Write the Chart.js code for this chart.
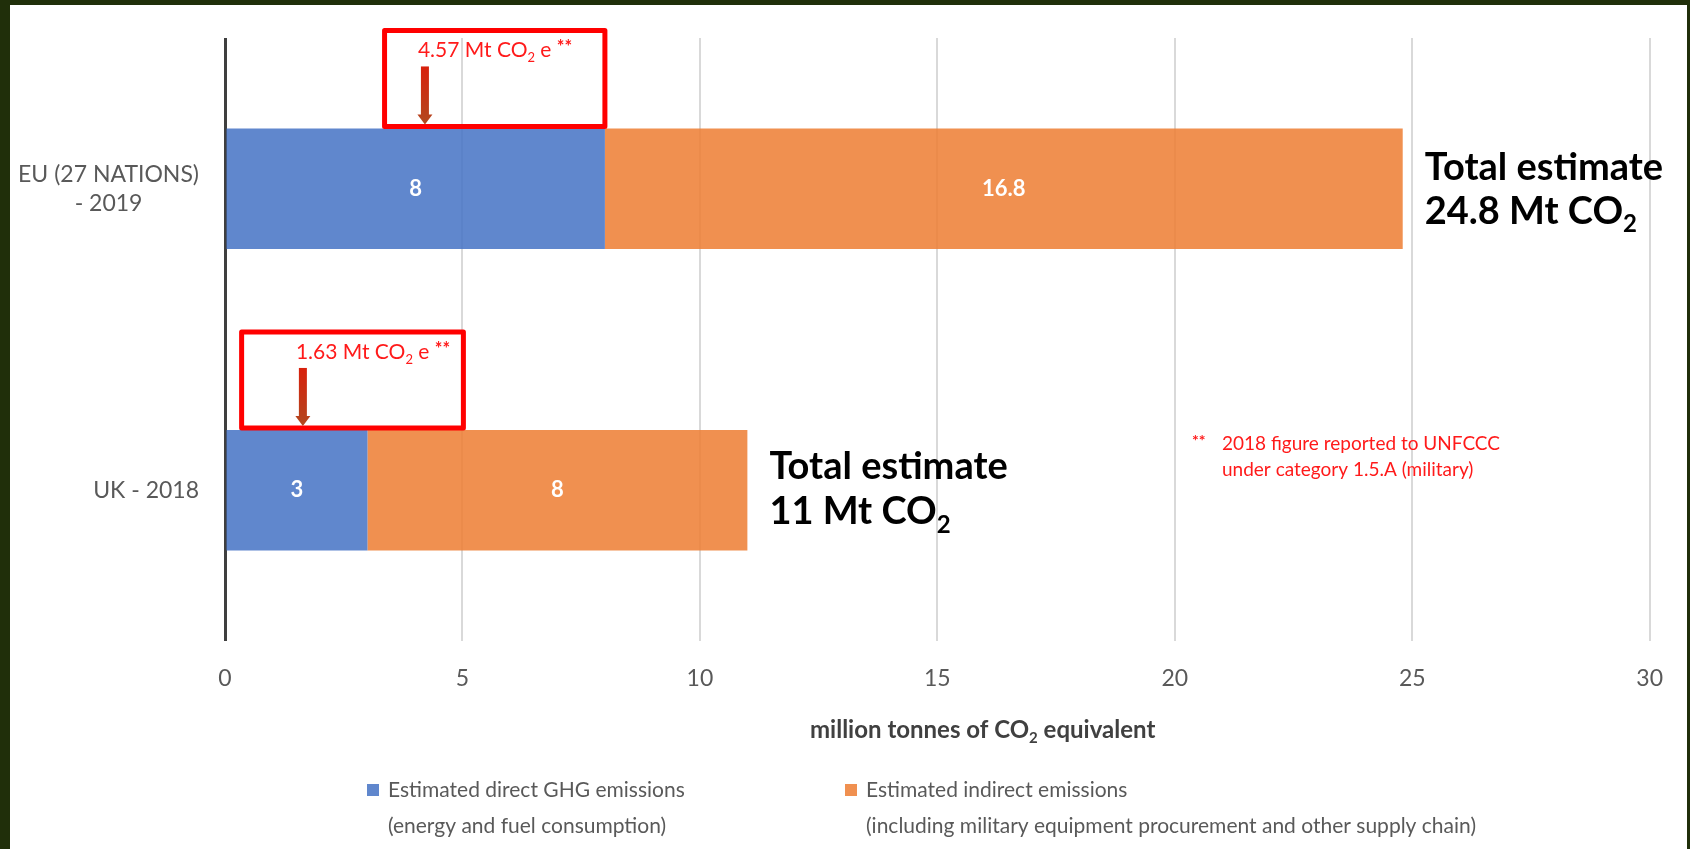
<!DOCTYPE html>
<html>
<head>
<meta charset="utf-8">
<title>Military GHG emissions</title>
<script src="https://cdn.jsdelivr.net/npm/chart.js@4.4.1/dist/chart.umd.min.js"></script>
<style>
  html, body { margin: 0; padding: 0; background: #202f0a; overflow: hidden; }
  .panel { position: absolute; left: 10px; top: 5px; width: 1677px; height: 844px; background: #ffffff; }
</style>
</head>
<body>
<div class="panel"><canvas id="emissionsChart"></canvas></div>
<script>
/* data */
const categories = [['EU (27 NATIONS)', '- 2019'], ['UK - 2018']];
const directEmissions = [8, 3];
const indirectEmissions = [16.8, 8];
const reportedUnfccc = ['4.57', '1.63'];
const xTicks = [0, 5, 10, 15, 20, 25, 30];
const seriesNames = ['Estimated direct GHG emissions', 'Estimated indirect emissions'];
const seriesNotes = ['(energy and fuel consumption)', '(including military equipment procurement and other supply chain)'];
const seriesColors = ['rgba(68, 114, 196, 0.85)', 'rgba(237, 125, 49, 0.85)'];

const FONT = 'Lato, "Open Sans", sans-serif';
const GREY = '#595959';
const RED = '#ff1a1a';

// callout boxes (in axis units) and arrow spot for each bar
const callouts = [
  { arrow: 4.21, from: 3.36, to: 8.0 },
  { arrow: 1.64, from: 0.35, to: 5.02 }
];
// baseline offsets of the "Total estimate" lines from bar centre
const totalOffsets = [[-9, 35], [-11, 34]];

/* text with sub / superscripts */
function drawParts(ctx, parts, x, y, size, weight, color) {
  let cx = x;
  ctx.fillStyle = color;
  ctx.textAlign = 'left';
  ctx.textBaseline = 'alphabetic';
  parts.forEach((p) => {
    const s = p.sub ? Math.round(size * 0.62) : p.sup ? Math.round(size * 0.85) : size;
    const w = p.sup ? 'bold' : weight;
    ctx.font = `${w} ${s}px ${FONT}`;
    const dy = p.sub ? size * 0.22 : p.sup ? -size * 0.2 : 0;
    ctx.fillText(p.t, cx, y + dy);
    cx += ctx.measureText(p.t).width;
  });
}

function drawArrow(ctx, x, y1, y2) {
  const grad = ctx.createLinearGradient(0, y1, 0, y2);
  grad.addColorStop(0, '#d8200c');
  grad.addColorStop(1, '#b2481f');
  ctx.fillStyle = grad;
  ctx.fillRect(x - 4, y1, 8, y2 - y1 - 9);
  ctx.beginPath();
  ctx.moveTo(x - 7.5, y2 - 10);
  ctx.lineTo(x + 7.5, y2 - 10);
  ctx.lineTo(x, y2);
  ctx.closePath();
  ctx.fill();
}

const annotationPlugin = {
  id: 'annotations',
  afterDatasetsDraw(chart) {
    const ctx = chart.ctx;
    const xScale = chart.scales.x;
    const yScale = chart.scales.y;
    ctx.save();

    // values inside the bars
    chart.data.datasets.forEach((ds, d) => {
      chart.getDatasetMeta(d).data.forEach((bar, i) => {
        ctx.fillStyle = '#ffffff';
        ctx.font = `bold 22px ${FONT}`;
        ctx.textAlign = 'center';
        ctx.textBaseline = 'middle';
        ctx.fillText(String(ds.data[i]), (bar.x + bar.base) / 2, bar.y);
      });
    });

    // category labels, lines centred on each other, right edge near the axis
    ctx.font = `23px ${FONT}`;
    ctx.fillStyle = GREY;
    ctx.textAlign = 'center';
    ctx.textBaseline = 'middle';
    categories.forEach((lines, i) => {
      const yc = yScale.getPixelForValue(i);
      const maxW = Math.max(...lines.map((l) => ctx.measureText(l).width));
      const cx = chart.chartArea.left - 26 - maxW / 2;
      lines.forEach((l, j) => {
        ctx.fillText(l, cx, yc + (j - (lines.length - 1) / 2) * 29);
      });
    });

    const direct = chart.getDatasetMeta(0).data;
    const indirect = chart.getDatasetMeta(1).data;

    direct.forEach((bar, i) => {
      const top = bar.y - bar.height / 2;
      const c = callouts[i];
      const ax = xScale.getPixelForValue(c.arrow);

      // red box
      ctx.strokeStyle = '#ff0000';
      ctx.lineWidth = 5;
      ctx.lineJoin = 'round';
      const bx1 = xScale.getPixelForValue(c.from);
      const bx2 = xScale.getPixelForValue(c.to);
      ctx.strokeRect(bx1, top - 98, bx2 - bx1, 96);

      drawParts(ctx, [{ t: reportedUnfccc[i] + ' Mt CO' }, { t: '2', sub: true }, { t: ' e ' }, { t: '**', sup: true }],
        ax - 7, top - 71, 21, 'normal', RED);
      drawArrow(ctx, ax, top - 62, top - 4);

      // total
      const end = indirect[i].x;
      const total = Math.round((directEmissions[i] + indirectEmissions[i]) * 10) / 10;
      const off = totalOffsets[i];
      drawParts(ctx, [{ t: 'Total estimate' }], end + 22, bar.y + off[0], 38, 'bold', '#000000');
      drawParts(ctx, [{ t: total + ' Mt CO' }, { t: '2', sub: true }], end + 22, bar.y + off[1], 38, 'bold', '#000000');
    });

    // UNFCCC note
    drawParts(ctx, [{ t: '**', sup: true }], 1182, 445, 19, 'normal', RED);
    drawParts(ctx, [{ t: '2018 figure reported to UNFCCC' }], 1212, 445, 19, 'normal', RED);
    drawParts(ctx, [{ t: 'under category 1.5.A (military)' }], 1212, 471, 19, 'normal', RED);

    // axis title
    const titleParts = [{ t: 'million tonnes of CO' }, { t: '2', sub: true }, { t: ' equivalent' }];
    drawParts(ctx, titleParts, 800, 733, 24, 'bold', '#404040');

    // legend
    seriesNames.forEach((name, i) => {
      const mx = [357, 835][i];
      ctx.fillStyle = seriesColors[i];
      ctx.fillRect(mx, 779, 12, 12);
      drawParts(ctx, [{ t: name }], mx + 21, 792, 21, 'normal', GREY);
      drawParts(ctx, [{ t: seriesNotes[i] }], mx + 21, 828, 21, 'normal', GREY);
    });

    ctx.restore();
  }
};

const chartElement = document.getElementById('emissionsChart');

new Chart(chartElement, {
  type: 'bar',
  data: {
    labels: categories,
    datasets: [{
      label: seriesNames[0],
      data: directEmissions,
      backgroundColor: seriesColors[0],
      barPercentage: 1,
      categoryPercentage: 0.4
    }, {
      label: seriesNames[1],
      data: indirectEmissions,
      backgroundColor: seriesColors[1],
      barPercentage: 1,
      categoryPercentage: 0.4
    }]
  },
  options: {
    indexAxis: 'y',
    responsive: true,
    maintainAspectRatio: false,
    animation: false,
    layout: {
      padding: { left: 0, right: 36, top: 33, bottom: 58 }
    },
    plugins: {
      legend: { display: false },
      tooltip: { enabled: false }
    },
    scales: {
      x: {
        stacked: true,
        min: xTicks[0],
        max: xTicks[xTicks.length - 1],
        afterBuildTicks: (scale) => { scale.ticks = xTicks.map((v) => ({ value: v })); },
        afterFit: (scale) => { scale.height = 150; },
        border: { display: false },
        grid: {
          drawTicks: false,
          color: (c) => (c.tick && c.tick.value === 0 ? '#3f3f3f' : '#d9d9d9'),
          lineWidth: (c) => (c.tick && c.tick.value === 0 ? 3 : 2)
        },
        ticks: {
          padding: 24,
          maxRotation: 0,
          color: GREY,
          font: { family: FONT, size: 23 }
        }
      },
      y: {
        stacked: true,
        afterFit: (scale) => { scale.width = 215; },
        border: { display: false },
        grid: { display: false },
        ticks: { display: false }
      }
    }
  },
  plugins: [annotationPlugin]
});
</script>
</body>
</html>
